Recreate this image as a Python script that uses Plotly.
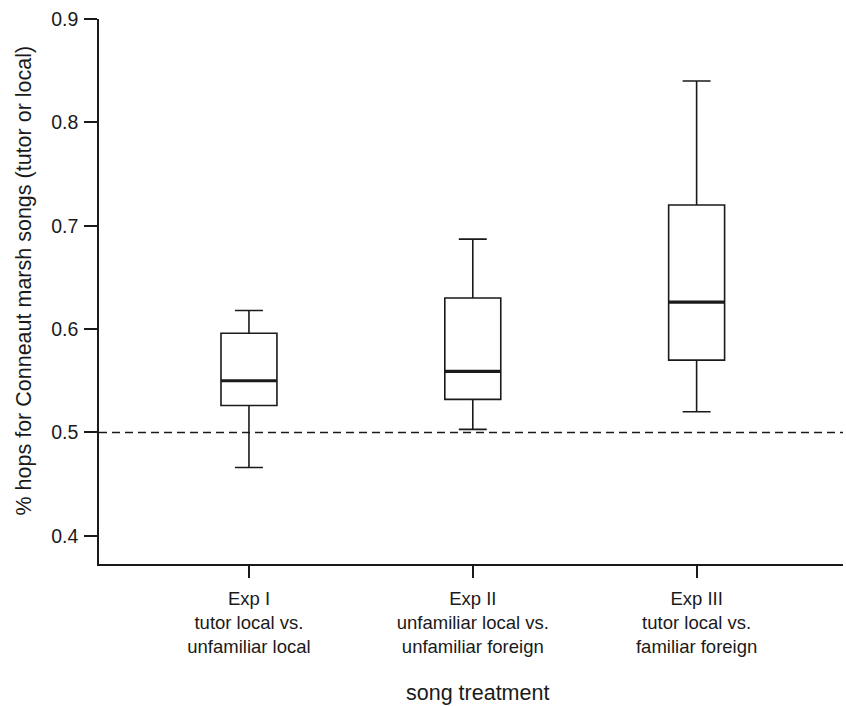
import plotly.graph_objects as go

categories = ["Exp I<br>tutor local vs.<br>unfamiliar local",
              "Exp II<br>unfamiliar local vs.<br>unfamiliar foreign",
              "Exp III<br>tutor local vs.<br>familiar foreign"]
positions = [0, 1, 2]
lower_whisker = [0.466, 0.503, 0.520]
q1 = [0.526, 0.532, 0.570]
median = [0.550, 0.559, 0.626]
q3 = [0.596, 0.630, 0.720]
upper_whisker = [0.618, 0.687, 0.840]
reference_level = 0.5
y_ticks = [0.4, 0.5, 0.6, 0.7, 0.8, 0.9]

BOX_W = 0.25
FONT = "Liberation Sans, Arial, sans-serif"
INK = "#1a1a1a"

fig = go.Figure()

fig.add_trace(go.Box(
    x=positions, q1=q1, median=median, q3=q3,
    lowerfence=lower_whisker, upperfence=upper_whisker,
    width=BOX_W, whiskerwidth=0.5, boxpoints=False,
    fillcolor="white", line=dict(color=INK, width=1.6),
    showlegend=False, hoverinfo="skip",
))

# thicker median lines
mx, my = [], []
for p, m in zip(positions, median):
    mx += [p - BOX_W / 2, p + BOX_W / 2, None]
    my += [m, m, None]
fig.add_trace(go.Scatter(x=mx, y=my, mode="lines",
                         line=dict(color=INK, width=3.2),
                         showlegend=False, hoverinfo="skip"))

fig.add_hline(y=reference_level, line=dict(color=INK, width=1.6, dash="8px,5px"))

fig.add_annotation(text="% hops for Conneaut marsh songs (tutor or local)",
                   xref="paper", yref="paper", x=0, y=0.5, xshift=-76, yshift=11,
                   xanchor="center", yanchor="middle", textangle=-90,
                   showarrow=False, font=dict(size=21.5))
fig.add_annotation(text="song treatment",
                   xref="paper", yref="paper", x=0.5, y=0, xshift=6, yshift=-129,
                   xanchor="center", yanchor="middle",
                   showarrow=False, font=dict(size=21.5))

fig.update_layout(
    width=846, height=706,
    margin=dict(l=99, r=3, t=19, b=142),
    paper_bgcolor="white", plot_bgcolor="white",
    font=dict(family=FONT, size=18, color=INK),
    xaxis=dict(
        range=[-0.67, 2.654], tickmode="array", tickvals=positions, ticktext=categories,
        showline=True, linecolor=INK, linewidth=1.6, mirror=False,
        ticks="outside", ticklen=12, tickwidth=1.6, tickcolor=INK,
        showgrid=False, zeroline=False, tickfont=dict(size=18.5),
        ticklabelstandoff=5, automargin=False,
    ),
    yaxis=dict(
        range=[0.3727, 0.9], tickvals=y_ticks, tickformat=".1f",
        showline=True, linecolor=INK, linewidth=1.6,
        ticks="outside", ticklen=13, tickwidth=1.6, tickcolor=INK,
        showgrid=False, zeroline=False, tickfont=dict(size=19.5),
        ticklabelstandoff=2, automargin=False,
    ),
)

fig.write_html("out.html", config={"displayModeBar": False},
               post_script="document.body.style.margin='0';document.body.style.overflow='hidden';")
